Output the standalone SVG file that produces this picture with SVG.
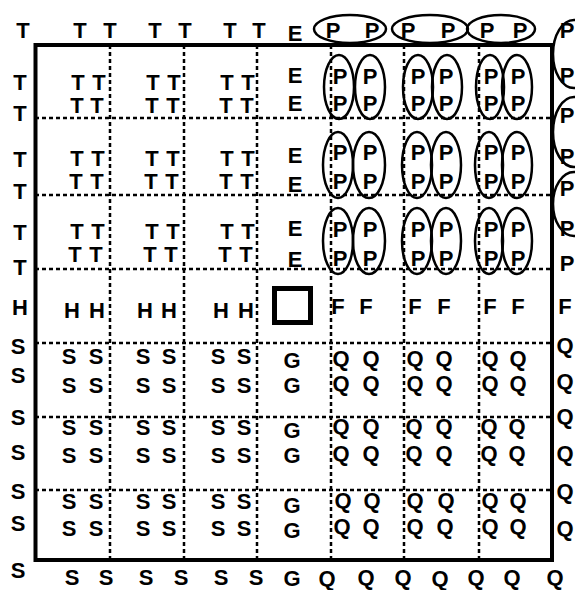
<svg xmlns="http://www.w3.org/2000/svg" width="575" height="590" viewBox="0 0 575 590">
<style>
.t{font-family:"Liberation Sans",Arial,sans-serif;font-weight:bold;font-size:22px;text-anchor:middle;fill:#000}
.g{stroke:#000;stroke-width:2.5;stroke-dasharray:4 3;fill:none}
.e{fill:none;stroke:#000;stroke-width:2.5}
.box{fill:none;stroke:#000;stroke-width:4}
</style>
<rect width="575" height="590" fill="#fff"/>
<g id="connectors">
<g id="grid">
<path class="g" d="M110 45V560M184 45V560M257 45V560M331 45V560M404 45V560M479 45V560"/>
<path class="g" d="M35 118H552M35 195H552M35 269H552M35 343H552M35 417H552M35 490H552"/>
</g>
<rect class="box" x="35.5" y="45" width="516.5" height="515"/>
</g>
<g id="top-margin">
<text class="t" x="23" y="38">T</text>
<text class="t" x="80" y="38">T</text><text class="t" x="110" y="38">T</text>
<text class="t" x="155" y="38">T</text><text class="t" x="185" y="38">T</text>
<text class="t" x="230" y="38">T</text><text class="t" x="259" y="38">T</text>
<text class="t" x="295" y="41">E</text>
<ellipse class="e" cx="350" cy="29" rx="36" ry="14"/>
<ellipse class="e" cx="430" cy="29" rx="38" ry="14"/>
<ellipse class="e" cx="501" cy="29" rx="34" ry="14"/>
<text class="t" x="333" y="38">P</text><text class="t" x="372" y="38">P</text>
<text class="t" x="408" y="38">P</text><text class="t" x="448" y="38">P</text>
<text class="t" x="487" y="38">P</text><text class="t" x="520" y="38">P</text>
</g>
<g id="left-margin">
<text class="t" x="20" y="90">T</text><text class="t" x="20" y="121">T</text>
<text class="t" x="20" y="167">T</text><text class="t" x="20" y="199">T</text>
<text class="t" x="20" y="240">T</text><text class="t" x="20" y="275">T</text>
<text class="t" x="20" y="315">H</text>
<text class="t" x="18" y="354">S</text><text class="t" x="18" y="383">S</text>
<text class="t" x="18" y="425">S</text><text class="t" x="18" y="460">S</text>
<text class="t" x="18" y="499">S</text><text class="t" x="18" y="531">S</text>
<text class="t" x="18" y="578">S</text>
</g>
<g id="right-margin">
<ellipse class="e" cx="574" cy="54" rx="21" ry="34"/>
<ellipse class="e" cx="574" cy="132" rx="21" ry="35"/>
<ellipse class="e" cx="574" cy="204" rx="21" ry="32"/>
<text class="t" x="567" y="38">P</text>
<text class="t" x="567" y="83">P</text><text class="t" x="567" y="123">P</text>
<text class="t" x="567" y="164">P</text><text class="t" x="567" y="196">P</text>
<text class="t" x="567" y="236">P</text><text class="t" x="567" y="271">P</text>
<text class="t" x="565" y="314">F</text>
<text class="t" x="565" y="353">Q</text><text class="t" x="565" y="389">Q</text>
<text class="t" x="565" y="424">Q</text><text class="t" x="565" y="461">Q</text>
<text class="t" x="565" y="499">Q</text><text class="t" x="565" y="536">Q</text>
</g>
<g id="bottom-margin">
<text class="t" x="72" y="585">S</text><text class="t" x="106" y="585">S</text>
<text class="t" x="146" y="585">S</text><text class="t" x="181" y="585">S</text>
<text class="t" x="221" y="585">S</text><text class="t" x="256" y="585">S</text>
<text class="t" x="292" y="586">G</text>
<text class="t" x="327" y="586">Q</text><text class="t" x="366" y="585">Q</text>
<text class="t" x="403" y="585">Q</text><text class="t" x="440" y="586">Q</text>
<text class="t" x="476" y="585">Q</text><text class="t" x="512" y="585">Q</text>
<text class="t" x="555" y="585">Q</text>
</g>
<g id="t-cells">
<text class="t" x="78" y="90">T</text><text class="t" x="99" y="90">T</text><text class="t" x="77" y="113">T</text><text class="t" x="97" y="113">T</text>
<text class="t" x="153" y="90">T</text><text class="t" x="174" y="90">T</text><text class="t" x="152" y="113">T</text><text class="t" x="173" y="113">T</text>
<text class="t" x="227" y="90">T</text><text class="t" x="248" y="90">T</text><text class="t" x="226" y="113">T</text><text class="t" x="247" y="113">T</text>
<text class="t" x="77" y="166">T</text><text class="t" x="98" y="166">T</text><text class="t" x="76" y="189">T</text><text class="t" x="97" y="189">T</text>
<text class="t" x="152" y="166">T</text><text class="t" x="173" y="166">T</text><text class="t" x="151" y="189">T</text><text class="t" x="172" y="189">T</text>
<text class="t" x="227" y="166">T</text><text class="t" x="248" y="166">T</text><text class="t" x="226" y="189">T</text><text class="t" x="247" y="189">T</text>
<text class="t" x="77" y="239">T</text><text class="t" x="98" y="239">T</text><text class="t" x="75" y="262">T</text><text class="t" x="96" y="262">T</text>
<text class="t" x="152" y="239">T</text><text class="t" x="173" y="239">T</text><text class="t" x="150" y="262">T</text><text class="t" x="171" y="262">T</text>
<text class="t" x="227" y="239">T</text><text class="t" x="248" y="239">T</text><text class="t" x="225" y="262">T</text><text class="t" x="246" y="262">T</text>
</g>
<g id="e-column">
<text class="t" x="295" y="83">E</text><text class="t" x="295" y="111">E</text>
<text class="t" x="295" y="163">E</text><text class="t" x="295" y="192">E</text>
<text class="t" x="295" y="236">E</text><text class="t" x="295" y="267">E</text>
</g>
<g id="p-cells">
<ellipse class="e" cx="339" cy="87" rx="15" ry="32"/><ellipse class="e" cx="370" cy="87" rx="15" ry="32"/>
<ellipse class="e" cx="418" cy="87" rx="15" ry="32"/><ellipse class="e" cx="447" cy="87" rx="15" ry="32"/>
<ellipse class="e" cx="490" cy="87" rx="14" ry="32"/><ellipse class="e" cx="517" cy="87" rx="15" ry="32"/>
<ellipse class="e" cx="338" cy="165" rx="15" ry="33"/><ellipse class="e" cx="369" cy="165" rx="16" ry="33"/>
<ellipse class="e" cx="417" cy="165" rx="15" ry="33"/><ellipse class="e" cx="446" cy="165" rx="15" ry="33"/>
<ellipse class="e" cx="489" cy="165" rx="14" ry="33"/><ellipse class="e" cx="517" cy="165" rx="15" ry="33"/>
<ellipse class="e" cx="338" cy="241" rx="15" ry="33"/><ellipse class="e" cx="369" cy="241" rx="16" ry="33"/>
<ellipse class="e" cx="417" cy="241" rx="15" ry="33"/><ellipse class="e" cx="446" cy="241" rx="15" ry="33"/>
<ellipse class="e" cx="489" cy="241" rx="14" ry="33"/><ellipse class="e" cx="517" cy="241" rx="15" ry="33"/>
<text class="t" x="340" y="84">P</text><text class="t" x="370" y="84">P</text><text class="t" x="340" y="111">P</text><text class="t" x="370" y="111">P</text>
<text class="t" x="418" y="84">P</text><text class="t" x="446" y="84">P</text><text class="t" x="418" y="111">P</text><text class="t" x="446" y="111">P</text>
<text class="t" x="491" y="84">P</text><text class="t" x="518" y="84">P</text><text class="t" x="491" y="111">P</text><text class="t" x="518" y="111">P</text>
<text class="t" x="340" y="160">P</text><text class="t" x="370" y="160">P</text><text class="t" x="340" y="189">P</text><text class="t" x="370" y="189">P</text>
<text class="t" x="418" y="160">P</text><text class="t" x="446" y="160">P</text><text class="t" x="418" y="189">P</text><text class="t" x="446" y="189">P</text>
<text class="t" x="491" y="160">P</text><text class="t" x="518" y="160">P</text><text class="t" x="491" y="189">P</text><text class="t" x="518" y="189">P</text>
<text class="t" x="340" y="237">P</text><text class="t" x="370" y="237">P</text><text class="t" x="340" y="266">P</text><text class="t" x="370" y="266">P</text>
<text class="t" x="418" y="237">P</text><text class="t" x="446" y="237">P</text><text class="t" x="418" y="266">P</text><text class="t" x="446" y="266">P</text>
<text class="t" x="491" y="237">P</text><text class="t" x="518" y="237">P</text><text class="t" x="491" y="266">P</text><text class="t" x="518" y="266">P</text>
</g>
<g id="h-row">
<text class="t" x="72" y="318">H</text><text class="t" x="97" y="318">H</text>
<text class="t" x="145" y="318">H</text><text class="t" x="169" y="318">H</text>
<text class="t" x="221" y="318">H</text><text class="t" x="246" y="318">H</text>
</g>
<g id="center-square">
<rect x="274.5" y="288.5" width="36" height="34" fill="none" stroke="#000" stroke-width="5"/>
</g>
<g id="f-row">
<text class="t" x="338" y="314">F</text><text class="t" x="366" y="314">F</text>
<text class="t" x="415" y="314">F</text><text class="t" x="444" y="314">F</text>
<text class="t" x="490" y="314">F</text><text class="t" x="518" y="314">F</text>
</g>
<g id="s-cells">
<text class="t" x="69" y="364">S</text><text class="t" x="96" y="364">S</text><text class="t" x="69" y="393">S</text><text class="t" x="96" y="393">S</text>
<text class="t" x="143" y="364">S</text><text class="t" x="169" y="364">S</text><text class="t" x="143" y="393">S</text><text class="t" x="169" y="393">S</text>
<text class="t" x="218" y="364">S</text><text class="t" x="244" y="364">S</text><text class="t" x="218" y="393">S</text><text class="t" x="244" y="393">S</text>
<text class="t" x="69" y="435">S</text><text class="t" x="96" y="435">S</text><text class="t" x="69" y="463">S</text><text class="t" x="96" y="463">S</text>
<text class="t" x="143" y="435">S</text><text class="t" x="169" y="435">S</text><text class="t" x="143" y="463">S</text><text class="t" x="169" y="463">S</text>
<text class="t" x="218" y="435">S</text><text class="t" x="244" y="435">S</text><text class="t" x="218" y="463">S</text><text class="t" x="244" y="463">S</text>
<text class="t" x="69" y="509">S</text><text class="t" x="96" y="509">S</text><text class="t" x="69" y="536">S</text><text class="t" x="96" y="536">S</text>
<text class="t" x="143" y="509">S</text><text class="t" x="169" y="509">S</text><text class="t" x="143" y="536">S</text><text class="t" x="169" y="536">S</text>
<text class="t" x="218" y="509">S</text><text class="t" x="244" y="509">S</text><text class="t" x="218" y="536">S</text><text class="t" x="244" y="536">S</text>
</g>
<g id="g-column">
<text class="t" x="292" y="368">G</text><text class="t" x="292" y="393">G</text>
<text class="t" x="292" y="438">G</text><text class="t" x="292" y="463">G</text>
<text class="t" x="292" y="513">G</text><text class="t" x="292" y="538">G</text>
</g>
<g id="q-cells">
<text class="t" x="341" y="366">Q</text><text class="t" x="371" y="366">Q</text><text class="t" x="341" y="391">Q</text><text class="t" x="371" y="391">Q</text>
<text class="t" x="415" y="366">Q</text><text class="t" x="444" y="366">Q</text><text class="t" x="415" y="391">Q</text><text class="t" x="444" y="391">Q</text>
<text class="t" x="490" y="366">Q</text><text class="t" x="518" y="366">Q</text><text class="t" x="490" y="391">Q</text><text class="t" x="518" y="391">Q</text>
<text class="t" x="341" y="434">Q</text><text class="t" x="371" y="434">Q</text><text class="t" x="341" y="461">Q</text><text class="t" x="371" y="461">Q</text>
<text class="t" x="414" y="434">Q</text><text class="t" x="444" y="434">Q</text><text class="t" x="414" y="461">Q</text><text class="t" x="444" y="461">Q</text>
<text class="t" x="489" y="434">Q</text><text class="t" x="517" y="434">Q</text><text class="t" x="489" y="461">Q</text><text class="t" x="517" y="461">Q</text>
<text class="t" x="343" y="508">Q</text><text class="t" x="372" y="508">Q</text><text class="t" x="342" y="534">Q</text><text class="t" x="371" y="534">Q</text>
<text class="t" x="415" y="508">Q</text><text class="t" x="446" y="508">Q</text><text class="t" x="415" y="534">Q</text><text class="t" x="445" y="534">Q</text>
<text class="t" x="490" y="508">Q</text><text class="t" x="518" y="508">Q</text><text class="t" x="490" y="534">Q</text><text class="t" x="518" y="534">Q</text>
</g>
</svg>
